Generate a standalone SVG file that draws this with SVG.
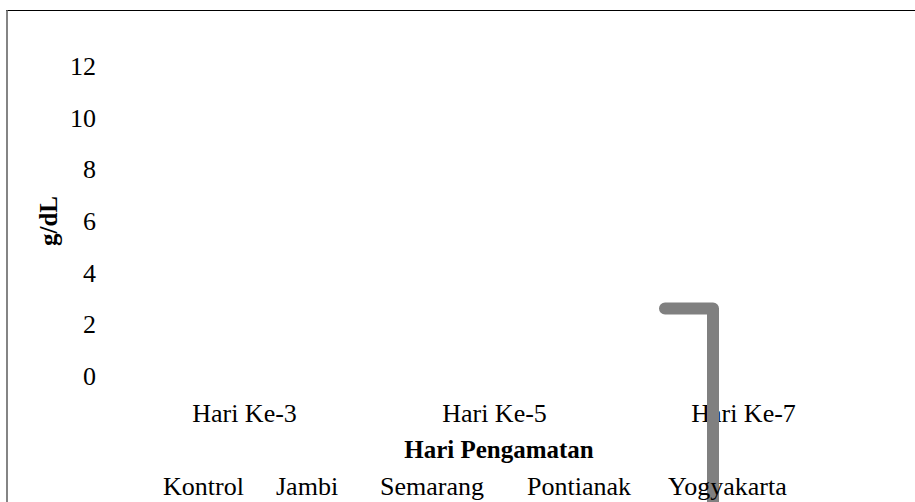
<svg xmlns="http://www.w3.org/2000/svg" width="915" height="502" viewBox="0 0 915 502">
<style>
text{font-family:"Liberation Serif","Times New Roman",serif;font-size:26px;fill:#000}
.b{font-weight:bold;font-size:25px}
.t{text-anchor:end}
.m{text-anchor:middle}
</style>
<rect width="915" height="502" fill="#fff"/>
<g id="frame">
<line x1="6" y1="10.5" x2="915" y2="10.5" stroke="#000" stroke-width="1.2"/>
<line x1="7" y1="10" x2="7" y2="502" stroke="#666" stroke-width="1.6"/>
</g>
<g id="yaxis">
<text class="t" x="96" y="75">12</text>
<text class="t" x="96" y="127">10</text>
<text class="t" x="96" y="178">8</text>
<text class="t" x="96" y="230">6</text>
<text class="t" x="96" y="282">4</text>
<text class="t" x="96" y="333">2</text>
<text class="t" x="96" y="385">0</text>
<text class="b m" transform="translate(57,221) rotate(-90)">g/dL</text>
</g>
<g id="xaxis">
<text class="m" x="244.5" y="422">Hari Ke-3</text>
<text class="m" x="494.5" y="422">Hari Ke-5</text>
<text class="m" x="743.5" y="422">Hari Ke-7</text>
<text class="b m" x="499" y="458">Hari Pengamatan</text>
</g>
<g id="connectors">
<path d="M665,308.5 H713 V502" fill="none" stroke="#808080" stroke-width="12" stroke-linecap="round" stroke-linejoin="round"/>
</g>
<g id="legend">
<text x="163" y="495">Kontrol</text>
<text x="276" y="495">Jambi</text>
<text x="380" y="495">Semarang</text>
<text x="527" y="495">Pontianak</text>
<text x="668" y="495">Yogyakarta</text>
</g>
</svg>
